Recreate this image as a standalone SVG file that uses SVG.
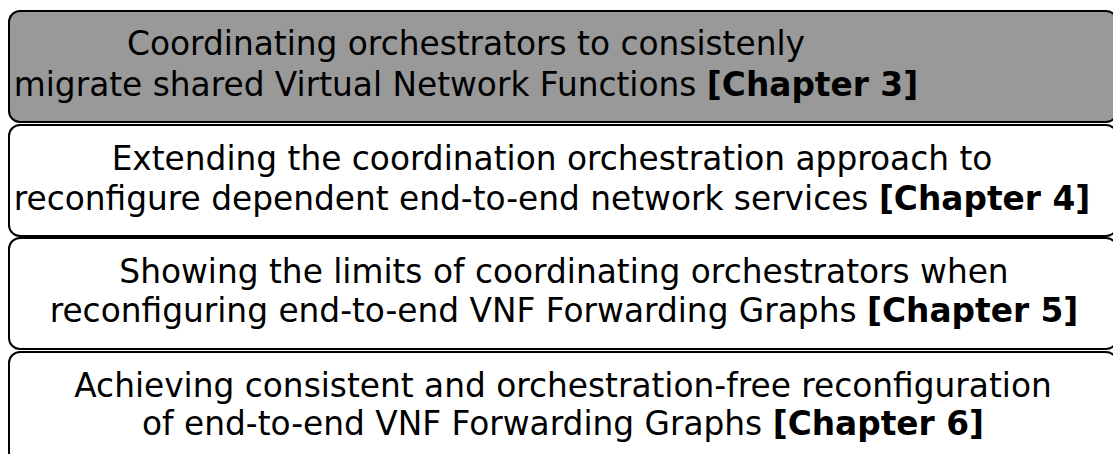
<svg xmlns="http://www.w3.org/2000/svg" width="1113" height="454" viewBox="0 0 1113 454">
<style>
.box{fill:#ffffff;stroke:#000000;stroke-width:2}
.grey{fill:#999999}
text{font-family:"DejaVu Sans",sans-serif;font-size:32.8px;fill:#000000;text-anchor:middle}
.b{font-weight:bold}
</style>
<rect width="1113" height="454" fill="#ffffff"/>
<g id="node1">
<rect class="box grey" x="9" y="11" width="1108" height="111" rx="11" ry="11"/>
<text x="466" y="55">Coordinating orchestrators to consistenly</text>
<text x="466" y="96">migrate shared Virtual Network Functions <tspan class="b">[Chapter 3]</tspan></text>
</g>
<g id="node2">
<rect class="box" x="9" y="125" width="1108" height="111" rx="11" ry="11"/>
<text x="552" y="170">Extending the coordination orchestration approach to</text>
<text x="552" y="210">reconfigure dependent end-to-end network services <tspan class="b">[Chapter 4]</tspan></text>
</g>
<g id="node3">
<rect class="box" x="9" y="238" width="1108" height="111" rx="11" ry="11"/>
<text x="564" y="283">Showing the limits of coordinating orchestrators when</text>
<text x="564" y="322">reconfiguring end-to-end VNF Forwarding Graphs <tspan class="b">[Chapter 5]</tspan></text>
</g>
<g id="node4">
<rect class="box" x="9" y="352" width="1108" height="111" rx="11" ry="11"/>
<text x="563" y="397">Achieving consistent and orchestration-free reconfiguration</text>
<text x="563" y="435">of end-to-end VNF Forwarding Graphs <tspan class="b">[Chapter 6]</tspan></text>
</g>
<g id="connectors"/>
</svg>
